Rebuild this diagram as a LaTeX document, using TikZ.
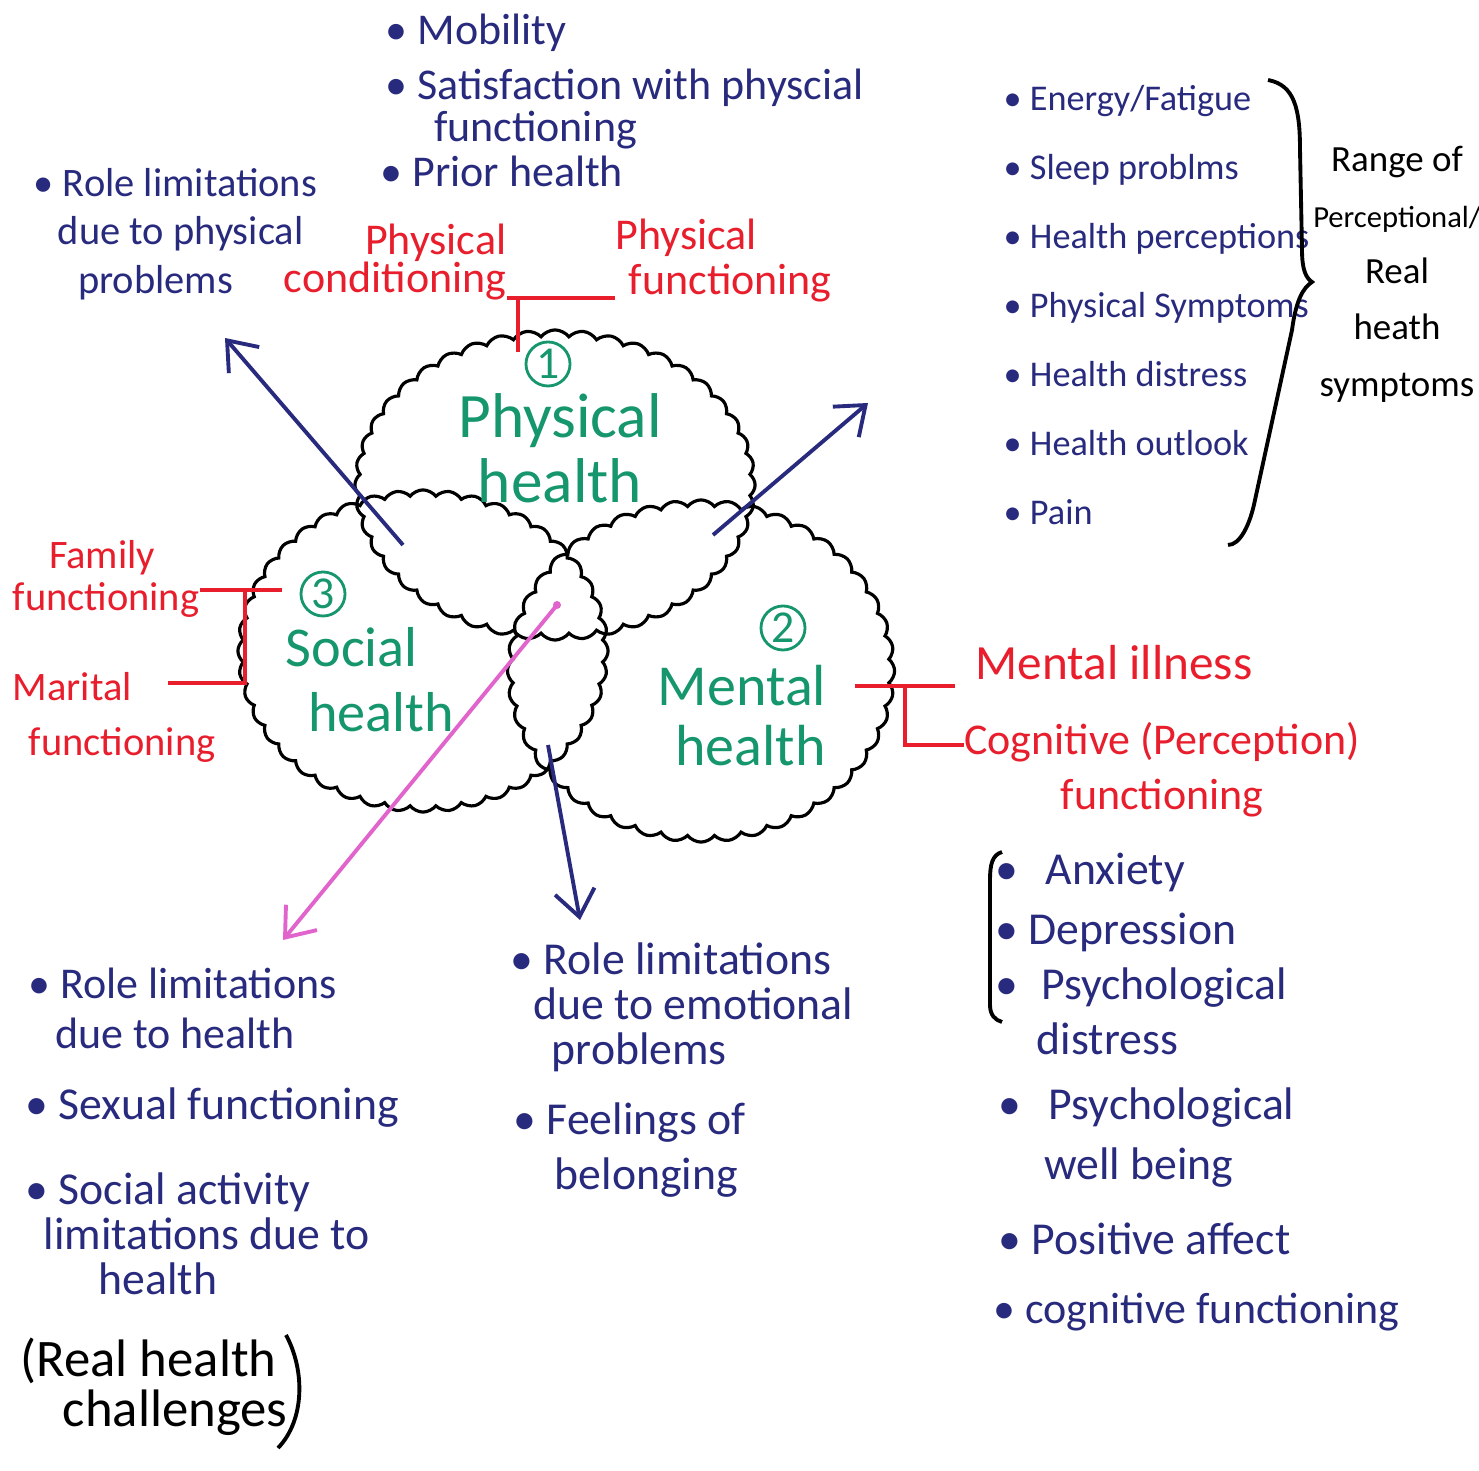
\documentclass[tikz,border=0pt]{standalone}
\usepackage{fontspec}
\setmainfont{Carlito}
\usetikzlibrary{shapes.symbols,arrows.meta}
\definecolor{ink}{RGB}{40,42,125}
\definecolor{rd}{RGB}{232,30,45}
\definecolor{gr}{RGB}{22,150,108}
\definecolor{pk}{RGB}{225,100,205}
\tikzset{
  cl/.style={cloud, draw=black, line width=0.9pt, cloud puffs=44, cloud puff arc=105, cloud ignores aspect, inner sep=0pt},
  btxt/.style={text=ink, font=\fontsize{12.5}{14}\selectfont, align=left, anchor=north west, inner sep=0pt},
  rtxt/.style={text=rd, font=\fontsize{12.5}{14}\selectfont, inner sep=0pt},
  gtxt/.style={text=gr, font=\fontsize{18}{18.5}\selectfont, align=center, anchor=north, inner sep=0pt},
  gnum/.style={circle, draw=gr, text=gr, line width=0.8pt, minimum size=0.44cm, inner sep=0pt, font=\fontsize{13}{13}\selectfont},
  ktxt/.style={text=black, inner sep=0pt},
  rline/.style={draw=rd, line width=1pt},
  narrow/.style={draw=ink, line width=1.1pt, -{Straight Barb[length=2.6mm,width=4mm]}},
  parrow/.style={draw=pk, line width=1.1pt, -{Straight Barb[length=2.6mm,width=4mm]}},
  kline/.style={draw=black, line width=1.1pt}
}
\begin{document}
\begin{tikzpicture}[x=0.01cm,y=-0.01cm]
\fill[white] (0,0) rectangle (1479,1471);
\useasboundingbox (0,0) rectangle (1479,1471);

% clouds
\node[cl, minimum width=4.0cm, minimum height=3.1cm] (phys) at (555,485) {};
\node[cl, minimum width=3.7cm, minimum height=3.22cm] (soc) at (423,651) {};
\node[cl, minimum width=3.87cm, minimum height=3.42cm] (ment) at (701,671) {};

% green labels
\node[gnum] (n1) at (548,364) {1};
\node[gtxt] (phl) at (560,393) {Physical\\health};
\node[gnum] (n2) at (783,628) {2};
\node[gtxt, font=\fontsize{16.5}{17}\selectfont] (mhl) at (742,665) {Mental\\\hspace*{0.3em}health};
\node[gnum] (n3) at (323,594) {3};
\node[gtxt, font=\fontsize{16}{18.5}\selectfont, anchor=north west, align=left] (shl) at (285,627) {Social\\\hspace*{0.4em}health};

% top blue texts
\node[btxt] (mob) at (385,13) {• Mobility};
\node[btxt] (sat) at (385,68) {• Satisfaction with physcial\\[-2pt]\hspace*{1.1em}functioning};
\node[btxt] (prior) at (380,155) {• Prior health};
\node[btxt, font=\fontsize{11.5}{13.7}\selectfont] (rolephys) at (33,168) {• Role limitations\\\hspace*{0.6em}due to physical\\\hspace*{1.1em}problems};

% right list
\node[btxt, font=\fontsize{10.3}{19.6}\selectfont] (rlist) at (1003,85) {• Energy/Fatigue\\• Sleep problms\\• Health perceptions\\• Physical Symptoms\\• Health distress\\• Health outlook\\• Pain};
\node[ktxt, align=center, anchor=north, font=\fontsize{10.5}{16}\selectfont] (range) at (1397,145) {Range of\\{\fontsize{8.7}{16}\selectfont Perceptional/}\\Real\\heath\\symptoms};
\draw[kline] (1268,80) .. controls (1295,85) and (1300,110) .. (1300,150) -- (1302,250) .. controls (1302,270) and (1306,278) .. (1312,282) .. controls (1303,288) and (1296,300) .. (1292,330) -- (1255,500) .. controls (1250,525) and (1240,545) .. (1228,545);

% red labels
\node[rtxt, align=right, anchor=north east, font=\fontsize{12.5}{11}\selectfont] (pcond) at (507,223) {Physical\\conditioning};
\node[rtxt, align=left, anchor=north west, font=\fontsize{12.5}{13}\selectfont] (pfunc) at (615,218) {Physical\\\hspace*{0.3em}functioning};
\node[rtxt, align=left, anchor=north west, font=\fontsize{11.5}{12}\selectfont] (ffunc) at (12,540) {\hspace*{0.9em}Family\\functioning};
\node[rtxt, align=left, anchor=north west, font=\fontsize{11.5}{15.6}\selectfont] (mfunc) at (12,672) {Marital\\\hspace*{0.4em}functioning};
\node[rtxt, anchor=north west, font=\fontsize{14}{15.6}\selectfont] (mill) at (975,645) {Mental illness};
\node[rtxt, align=center, anchor=north, font=\fontsize{12.5}{15.6}\selectfont] (cog) at (1162,722) {Cognitive (Perception)\\functioning};

% red connectors
\coordinate (pj) at (518,298);
\draw[rline] (pcond.east |- pj) -- (pfunc.west |- pj);
\draw[rline] (pj) -- (518,352);
\coordinate (sj1) at (245,590);
\coordinate (sj2) at (245,683);
\draw[rline] (ffunc.east |- sj1) -- (282,590);
\draw[rline] (sj1) -- (sj2) -- (168,683);
\coordinate (mj1) at (905,686);
\coordinate (mj2) at (905,745);
\draw[rline] (855,686) -- (955,686);
\draw[rline] (mj1) -- (mj2) -- (cog.west |- mj2);

% arrows
\coordinate (a1s) at (403,545); \coordinate (a1e) at (225,338);
\draw[narrow] (a1s) -- (a1e);
\coordinate (a2s) at (713,535); \coordinate (a2e) at (868,403);
\draw[narrow] (a2s) -- (a2e);
\coordinate (a3s) at (557,605); \coordinate (a3e) at (283,940);
\draw[parrow] (a3s) -- (a3e);
\fill[pk] (a3s) circle (4);
\coordinate (a4s) at (548,745); \coordinate (a4e) at (580,920);
\draw[narrow] (a4s) -- (a4e);

% bottom left
\node[btxt, font=\fontsize{12.5}{14.2}\selectfont] (bl1) at (28,967) {• Role limitations\\\hspace*{0.6em}due to health};
\node[btxt, font=\fontsize{13}{14.2}\selectfont] (bl2) at (25,1087) {• Sexual functioning};
\node[btxt, font=\fontsize{13}{12.8}\selectfont] (bl3) at (25,1172) {• Social activity\\\hspace*{0.4em}limitations due to\\\hspace*{1.6em}health};
\node[ktxt, align=left, anchor=north west, font=\fontsize{15}{14.2}\selectfont] (real) at (20,1337) {(Real health\\\hspace*{0.8em}challenges};
\draw[kline] (286,1335) .. controls (305,1370) and (305,1420) .. (278,1448);

% bottom middle
\node[btxt, font=\fontsize{13}{12.8}\selectfont] (bm1) at (510,942) {• Role limitations\\\hspace*{0.5em}due to emotional\\\hspace*{0.9em}problems};
\node[btxt, font=\fontsize{13}{15.6}\selectfont] (bm2) at (513,1102) {• Feelings of\\\hspace*{0.9em}belonging};

% bottom right
\node[btxt, font=\fontsize{13}{15.6}\selectfont] (br1) at (995,852) {•\hspace{0.6em}Anxiety};
\node[btxt, font=\fontsize{13}{15.6}\selectfont] (br2) at (995,912) {• Depression};
\node[btxt, font=\fontsize{13}{15.6}\selectfont] (br3) at (995,967) {•\hspace{0.5em}Psychological\\\hspace*{0.9em}distress};
\node[btxt, font=\fontsize{13}{17}\selectfont] (br4) at (998,1087) {•\hspace{0.6em}Psychological\\\hspace*{1.0em}well being};
\node[btxt, font=\fontsize{13}{15.6}\selectfont] (br5) at (998,1222) {• Positive affect};
\node[btxt, font=\fontsize{12.5}{15.6}\selectfont] (br6) at (993,1292) {• cognitive functioning};
\draw[kline] (1002,852) .. controls (992,855) and (990,865) .. (990,880) -- (990,1005) .. controls (990,1015) and (995,1020) .. (1002,1022);
\end{tikzpicture}
\end{document}
